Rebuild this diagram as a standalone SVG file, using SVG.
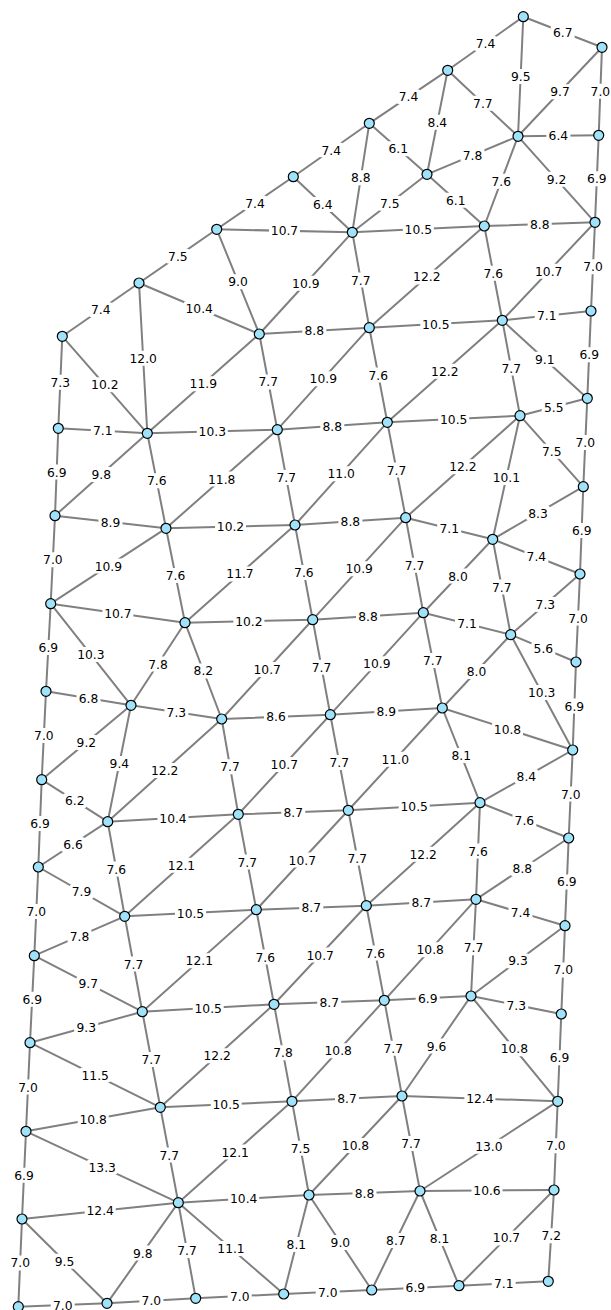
<svg xmlns="http://www.w3.org/2000/svg" xmlns:xlink="http://www.w3.org/1999/xlink" width="611" height="1310" viewBox="0 0 611 1310">
<style>
#connectors line{stroke:#808080;stroke-width:2;stroke-linecap:round}
.node circle{fill:#9fe2fa;stroke:#000;stroke-width:1.2}
.lb use{fill:#fff}
.lb text{font-family:"DejaVu Sans",sans-serif;font-size:12.3px;text-anchor:middle;fill:#000}
</style>
<defs>
<rect id="b3" x="-12" y="-7.5" width="24" height="15" rx="3"/>
<rect id="b4" x="-15.5" y="-7.5" width="31" height="15" rx="3"/>
</defs>
<rect width="611" height="1310" fill="#fff"/>
<g id="connectors">
<line x1="523.3" y1="16.7" x2="602" y2="47.3"/>
<line x1="523.3" y1="16.7" x2="447.7" y2="70.3"/>
<line x1="523.3" y1="16.7" x2="518" y2="136.3"/>
<line x1="602" y1="47.3" x2="518" y2="136.3"/>
<line x1="602" y1="47.3" x2="598.7" y2="135.3"/>
<line x1="447.7" y1="70.3" x2="369.3" y2="123.3"/>
<line x1="447.7" y1="70.3" x2="427" y2="174.3"/>
<line x1="447.7" y1="70.3" x2="518" y2="136.3"/>
<line x1="518" y1="136.3" x2="598.7" y2="135.3"/>
<line x1="518" y1="136.3" x2="427" y2="174.3"/>
<line x1="518" y1="136.3" x2="484.3" y2="226"/>
<line x1="518" y1="136.3" x2="595" y2="222.3"/>
<line x1="598.7" y1="135.3" x2="595" y2="222.3"/>
<line x1="369.3" y1="123.3" x2="293.3" y2="176.7"/>
<line x1="369.3" y1="123.3" x2="427" y2="174.3"/>
<line x1="369.3" y1="123.3" x2="352.3" y2="232.3"/>
<line x1="427" y1="174.3" x2="352.3" y2="232.3"/>
<line x1="427" y1="174.3" x2="484.3" y2="226"/>
<line x1="293.3" y1="176.7" x2="216.7" y2="229.3"/>
<line x1="293.3" y1="176.7" x2="352.3" y2="232.3"/>
<line x1="216.7" y1="229.3" x2="352.3" y2="232.3"/>
<line x1="352.3" y1="232.3" x2="484.3" y2="226"/>
<line x1="484.3" y1="226" x2="595" y2="222.3"/>
<line x1="216.7" y1="229.3" x2="139" y2="283"/>
<line x1="216.7" y1="229.3" x2="259.3" y2="334"/>
<line x1="352.3" y1="232.3" x2="259.3" y2="334"/>
<line x1="352.3" y1="232.3" x2="369.3" y2="327.7"/>
<line x1="484.3" y1="226" x2="369.3" y2="327.7"/>
<line x1="484.3" y1="226" x2="502.3" y2="320.3"/>
<line x1="595" y1="222.3" x2="502.3" y2="320.3"/>
<line x1="595" y1="222.3" x2="591" y2="311"/>
<line x1="139" y1="283" x2="62.3" y2="336.3"/>
<line x1="139" y1="283" x2="259.3" y2="334"/>
<line x1="139" y1="283" x2="147.3" y2="433.3"/>
<line x1="62.3" y1="336.3" x2="147.3" y2="433.3"/>
<line x1="62.3" y1="336.3" x2="58.3" y2="428.3"/>
<line x1="259.3" y1="334" x2="369.3" y2="327.7"/>
<line x1="259.3" y1="334" x2="147.3" y2="433.3"/>
<line x1="259.3" y1="334" x2="277.3" y2="429.7"/>
<line x1="369.3" y1="327.7" x2="502.3" y2="320.3"/>
<line x1="369.3" y1="327.7" x2="277.3" y2="429.7"/>
<line x1="369.3" y1="327.7" x2="387.3" y2="422.3"/>
<line x1="502.3" y1="320.3" x2="591" y2="311"/>
<line x1="502.3" y1="320.3" x2="387.3" y2="422.3"/>
<line x1="502.3" y1="320.3" x2="520" y2="415.7"/>
<line x1="502.3" y1="320.3" x2="587.3" y2="398.3"/>
<line x1="591" y1="311" x2="587.3" y2="398.3"/>
<line x1="58.3" y1="428.3" x2="147.3" y2="433.3"/>
<line x1="147.3" y1="433.3" x2="277.3" y2="429.7"/>
<line x1="277.3" y1="429.7" x2="387.3" y2="422.3"/>
<line x1="387.3" y1="422.3" x2="520" y2="415.7"/>
<line x1="520" y1="415.7" x2="587.3" y2="398.3"/>
<line x1="58.3" y1="428.3" x2="55" y2="515.7"/>
<line x1="147.3" y1="433.3" x2="55" y2="515.7"/>
<line x1="147.3" y1="433.3" x2="166" y2="528.3"/>
<line x1="277.3" y1="429.7" x2="166" y2="528.3"/>
<line x1="277.3" y1="429.7" x2="295" y2="525"/>
<line x1="387.3" y1="422.3" x2="295" y2="525"/>
<line x1="387.3" y1="422.3" x2="405.7" y2="517.7"/>
<line x1="520" y1="415.7" x2="405.7" y2="517.7"/>
<line x1="520" y1="415.7" x2="492.7" y2="539.3"/>
<line x1="520" y1="415.7" x2="583.3" y2="486.7"/>
<line x1="587.3" y1="398.3" x2="583.3" y2="486.7"/>
<line x1="55" y1="515.7" x2="166" y2="528.3"/>
<line x1="166" y1="528.3" x2="295" y2="525"/>
<line x1="295" y1="525" x2="405.7" y2="517.7"/>
<line x1="405.7" y1="517.7" x2="492.7" y2="539.3"/>
<line x1="492.7" y1="539.3" x2="583.3" y2="486.7"/>
<line x1="492.7" y1="539.3" x2="580" y2="574"/>
<line x1="583.3" y1="486.7" x2="580" y2="574"/>
<line x1="55" y1="515.7" x2="50.7" y2="603.7"/>
<line x1="166" y1="528.3" x2="50.7" y2="603.7"/>
<line x1="166" y1="528.3" x2="185" y2="622.7"/>
<line x1="295" y1="525" x2="185" y2="622.7"/>
<line x1="295" y1="525" x2="312.7" y2="619.7"/>
<line x1="405.7" y1="517.7" x2="312.7" y2="619.7"/>
<line x1="405.7" y1="517.7" x2="423.3" y2="612.7"/>
<line x1="492.7" y1="539.3" x2="423.3" y2="612.7"/>
<line x1="492.7" y1="539.3" x2="510.7" y2="634.7"/>
<line x1="580" y1="574" x2="510.7" y2="634.7"/>
<line x1="580" y1="574" x2="576" y2="662"/>
<line x1="50.7" y1="603.7" x2="185" y2="622.7"/>
<line x1="185" y1="622.7" x2="312.7" y2="619.7"/>
<line x1="312.7" y1="619.7" x2="423.3" y2="612.7"/>
<line x1="423.3" y1="612.7" x2="510.7" y2="634.7"/>
<line x1="510.7" y1="634.7" x2="576" y2="662"/>
<line x1="50.7" y1="603.7" x2="46" y2="691.3"/>
<line x1="50.7" y1="603.7" x2="131" y2="705.3"/>
<line x1="185" y1="622.7" x2="131" y2="705.3"/>
<line x1="185" y1="622.7" x2="221.7" y2="719"/>
<line x1="312.7" y1="619.7" x2="221.7" y2="719"/>
<line x1="312.7" y1="619.7" x2="330.3" y2="714.7"/>
<line x1="423.3" y1="612.7" x2="330.3" y2="714.7"/>
<line x1="423.3" y1="612.7" x2="442.3" y2="708"/>
<line x1="510.7" y1="634.7" x2="442.3" y2="708"/>
<line x1="510.7" y1="634.7" x2="572.7" y2="750"/>
<line x1="576" y1="662" x2="572.7" y2="750"/>
<line x1="46" y1="691.3" x2="131" y2="705.3"/>
<line x1="131" y1="705.3" x2="221.7" y2="719"/>
<line x1="221.7" y1="719" x2="330.3" y2="714.7"/>
<line x1="330.3" y1="714.7" x2="442.3" y2="708"/>
<line x1="442.3" y1="708" x2="572.7" y2="750"/>
<line x1="46" y1="691.3" x2="41.7" y2="779.7"/>
<line x1="131" y1="705.3" x2="41.7" y2="779.7"/>
<line x1="131" y1="705.3" x2="107.7" y2="821.7"/>
<line x1="221.7" y1="719" x2="107.7" y2="821.7"/>
<line x1="221.7" y1="719" x2="238.3" y2="814.3"/>
<line x1="330.3" y1="714.7" x2="238.3" y2="814.3"/>
<line x1="330.3" y1="714.7" x2="348.3" y2="810.3"/>
<line x1="442.3" y1="708" x2="348.3" y2="810.3"/>
<line x1="442.3" y1="708" x2="480" y2="802.7"/>
<line x1="572.7" y1="750" x2="480" y2="802.7"/>
<line x1="572.7" y1="750" x2="568.7" y2="838"/>
<line x1="41.7" y1="779.7" x2="107.7" y2="821.7"/>
<line x1="107.7" y1="821.7" x2="238.3" y2="814.3"/>
<line x1="238.3" y1="814.3" x2="348.3" y2="810.3"/>
<line x1="348.3" y1="810.3" x2="480" y2="802.7"/>
<line x1="480" y1="802.7" x2="568.7" y2="838"/>
<line x1="41.7" y1="779.7" x2="38.3" y2="867"/>
<line x1="107.7" y1="821.7" x2="38.3" y2="867"/>
<line x1="107.7" y1="821.7" x2="124.7" y2="916.3"/>
<line x1="238.3" y1="814.3" x2="124.7" y2="916.3"/>
<line x1="238.3" y1="814.3" x2="256.3" y2="909.7"/>
<line x1="348.3" y1="810.3" x2="256.3" y2="909.7"/>
<line x1="348.3" y1="810.3" x2="366.3" y2="905.7"/>
<line x1="480" y1="802.7" x2="366.3" y2="905.7"/>
<line x1="480" y1="802.7" x2="476" y2="899.3"/>
<line x1="568.7" y1="838" x2="476" y2="899.3"/>
<line x1="568.7" y1="838" x2="565" y2="925.7"/>
<line x1="38.3" y1="867" x2="124.7" y2="916.3"/>
<line x1="124.7" y1="916.3" x2="256.3" y2="909.7"/>
<line x1="256.3" y1="909.7" x2="366.3" y2="905.7"/>
<line x1="366.3" y1="905.7" x2="476" y2="899.3"/>
<line x1="476" y1="899.3" x2="565" y2="925.7"/>
<line x1="38.3" y1="867" x2="34.3" y2="955.7"/>
<line x1="124.7" y1="916.3" x2="34.3" y2="955.7"/>
<line x1="124.7" y1="916.3" x2="142.3" y2="1011.7"/>
<line x1="256.3" y1="909.7" x2="142.3" y2="1011.7"/>
<line x1="256.3" y1="909.7" x2="274" y2="1004.3"/>
<line x1="366.3" y1="905.7" x2="274" y2="1004.3"/>
<line x1="366.3" y1="905.7" x2="384.3" y2="1000.3"/>
<line x1="476" y1="899.3" x2="384.3" y2="1000.3"/>
<line x1="476" y1="899.3" x2="471" y2="996"/>
<line x1="565" y1="925.7" x2="471" y2="996"/>
<line x1="565" y1="925.7" x2="561.3" y2="1014"/>
<line x1="34.3" y1="955.7" x2="142.3" y2="1011.7"/>
<line x1="142.3" y1="1011.7" x2="274" y2="1004.3"/>
<line x1="274" y1="1004.3" x2="384.3" y2="1000.3"/>
<line x1="384.3" y1="1000.3" x2="471" y2="996"/>
<line x1="471" y1="996" x2="561.3" y2="1014"/>
<line x1="34.3" y1="955.7" x2="30" y2="1042.7"/>
<line x1="142.3" y1="1011.7" x2="30" y2="1042.7"/>
<line x1="142.3" y1="1011.7" x2="160.3" y2="1107.3"/>
<line x1="274" y1="1004.3" x2="160.3" y2="1107.3"/>
<line x1="274" y1="1004.3" x2="292" y2="1101.3"/>
<line x1="384.3" y1="1000.3" x2="292" y2="1101.3"/>
<line x1="384.3" y1="1000.3" x2="402" y2="1096"/>
<line x1="471" y1="996" x2="402" y2="1096"/>
<line x1="471" y1="996" x2="557.7" y2="1101.3"/>
<line x1="561.3" y1="1014" x2="557.7" y2="1101.3"/>
<line x1="30" y1="1042.7" x2="160.3" y2="1107.3"/>
<line x1="30" y1="1042.7" x2="26" y2="1131.3"/>
<line x1="160.3" y1="1107.3" x2="292" y2="1101.3"/>
<line x1="292" y1="1101.3" x2="402" y2="1096"/>
<line x1="402" y1="1096" x2="557.7" y2="1101.3"/>
<line x1="160.3" y1="1107.3" x2="26" y2="1131.3"/>
<line x1="160.3" y1="1107.3" x2="178.3" y2="1202.7"/>
<line x1="292" y1="1101.3" x2="178.3" y2="1202.7"/>
<line x1="292" y1="1101.3" x2="309" y2="1195"/>
<line x1="402" y1="1096" x2="309" y2="1195"/>
<line x1="402" y1="1096" x2="420" y2="1191"/>
<line x1="557.7" y1="1101.3" x2="420" y2="1191"/>
<line x1="557.7" y1="1101.3" x2="554" y2="1190"/>
<line x1="26" y1="1131.3" x2="178.3" y2="1202.7"/>
<line x1="26" y1="1131.3" x2="22" y2="1219"/>
<line x1="178.3" y1="1202.7" x2="309" y2="1195"/>
<line x1="309" y1="1195" x2="420" y2="1191"/>
<line x1="420" y1="1191" x2="554" y2="1190"/>
<line x1="178.3" y1="1202.7" x2="22" y2="1219"/>
<line x1="22" y1="1219" x2="18.3" y2="1306.7"/>
<line x1="22" y1="1219" x2="107" y2="1303.3"/>
<line x1="178.3" y1="1202.7" x2="107" y2="1303.3"/>
<line x1="178.3" y1="1202.7" x2="195.7" y2="1298.3"/>
<line x1="178.3" y1="1202.7" x2="283.7" y2="1294"/>
<line x1="309" y1="1195" x2="283.7" y2="1294"/>
<line x1="309" y1="1195" x2="371.7" y2="1290"/>
<line x1="420" y1="1191" x2="371.7" y2="1290"/>
<line x1="420" y1="1191" x2="459" y2="1285.7"/>
<line x1="554" y1="1190" x2="459" y2="1285.7"/>
<line x1="554" y1="1190" x2="548.3" y2="1281.3"/>
<line x1="18.3" y1="1306.7" x2="107" y2="1303.3"/>
<line x1="107" y1="1303.3" x2="195.7" y2="1298.3"/>
<line x1="195.7" y1="1298.3" x2="283.7" y2="1294"/>
<line x1="283.7" y1="1294" x2="371.7" y2="1290"/>
<line x1="371.7" y1="1290" x2="459" y2="1285.7"/>
<line x1="459" y1="1285.7" x2="548.3" y2="1281.3"/>
</g>
<g id="edge-labels" class="lb">
<g transform="translate(562.7,32)"><use href="#b3"/><text y="4.5">6.7</text></g>
<g transform="translate(485.5,43.5)"><use href="#b3"/><text y="4.5">7.4</text></g>
<g transform="translate(520.7,76.5)"><use href="#b3"/><text y="4.5">9.5</text></g>
<g transform="translate(560,91.8)"><use href="#b3"/><text y="4.5">9.7</text></g>
<g transform="translate(600.4,91.3)"><use href="#b3"/><text y="4.5">7.0</text></g>
<g transform="translate(408.5,96.8)"><use href="#b3"/><text y="4.5">7.4</text></g>
<g transform="translate(437.4,122.3)"><use href="#b3"/><text y="4.5">8.4</text></g>
<g transform="translate(482.9,103.3)"><use href="#b3"/><text y="4.5">7.7</text></g>
<g transform="translate(558.4,135.8)"><use href="#b3"/><text y="4.5">6.4</text></g>
<g transform="translate(472.5,155.3)"><use href="#b3"/><text y="4.5">7.8</text></g>
<g transform="translate(501.2,181.2)"><use href="#b3"/><text y="4.5">7.6</text></g>
<g transform="translate(556.5,179.3)"><use href="#b3"/><text y="4.5">9.2</text></g>
<g transform="translate(596.9,178.8)"><use href="#b3"/><text y="4.5">6.9</text></g>
<g transform="translate(331.3,150)"><use href="#b3"/><text y="4.5">7.4</text></g>
<g transform="translate(398.2,148.8)"><use href="#b3"/><text y="4.5">6.1</text></g>
<g transform="translate(360.8,177.8)"><use href="#b3"/><text y="4.5">8.8</text></g>
<g transform="translate(389.7,203.3)"><use href="#b3"/><text y="4.5">7.5</text></g>
<g transform="translate(455.7,200.2)"><use href="#b3"/><text y="4.5">6.1</text></g>
<g transform="translate(255,203)"><use href="#b3"/><text y="4.5">7.4</text></g>
<g transform="translate(322.8,204.5)"><use href="#b3"/><text y="4.5">6.4</text></g>
<g transform="translate(284.5,230.8)"><use href="#b4"/><text y="4.5">10.7</text></g>
<g transform="translate(418.3,229.2)"><use href="#b4"/><text y="4.5">10.5</text></g>
<g transform="translate(539.7,224.2)"><use href="#b3"/><text y="4.5">8.8</text></g>
<g transform="translate(177.9,256.2)"><use href="#b3"/><text y="4.5">7.5</text></g>
<g transform="translate(238,281.7)"><use href="#b3"/><text y="4.5">9.0</text></g>
<g transform="translate(305.8,283.2)"><use href="#b4"/><text y="4.5">10.9</text></g>
<g transform="translate(360.8,280)"><use href="#b3"/><text y="4.5">7.7</text></g>
<g transform="translate(426.8,276.9)"><use href="#b4"/><text y="4.5">12.2</text></g>
<g transform="translate(493.3,273.2)"><use href="#b3"/><text y="4.5">7.6</text></g>
<g transform="translate(548.7,271.3)"><use href="#b4"/><text y="4.5">10.7</text></g>
<g transform="translate(593,266.7)"><use href="#b3"/><text y="4.5">7.0</text></g>
<g transform="translate(100.7,309.7)"><use href="#b3"/><text y="4.5">7.4</text></g>
<g transform="translate(199.2,308.5)"><use href="#b4"/><text y="4.5">10.4</text></g>
<g transform="translate(143.2,358.2)"><use href="#b4"/><text y="4.5">12.0</text></g>
<g transform="translate(104.8,384.8)"><use href="#b4"/><text y="4.5">10.2</text></g>
<g transform="translate(60.3,382.3)"><use href="#b3"/><text y="4.5">7.3</text></g>
<g transform="translate(314.3,330.9)"><use href="#b3"/><text y="4.5">8.8</text></g>
<g transform="translate(203.3,383.7)"><use href="#b4"/><text y="4.5">11.9</text></g>
<g transform="translate(268.3,381.9)"><use href="#b3"/><text y="4.5">7.7</text></g>
<g transform="translate(435.8,324)"><use href="#b4"/><text y="4.5">10.5</text></g>
<g transform="translate(323.3,378.7)"><use href="#b4"/><text y="4.5">10.9</text></g>
<g transform="translate(378.3,375)"><use href="#b3"/><text y="4.5">7.6</text></g>
<g transform="translate(546.7,315.7)"><use href="#b3"/><text y="4.5">7.1</text></g>
<g transform="translate(444.8,371.3)"><use href="#b4"/><text y="4.5">12.2</text></g>
<g transform="translate(511.2,368)"><use href="#b3"/><text y="4.5">7.7</text></g>
<g transform="translate(544.8,359.3)"><use href="#b3"/><text y="4.5">9.1</text></g>
<g transform="translate(589.2,354.7)"><use href="#b3"/><text y="4.5">6.9</text></g>
<g transform="translate(102.8,430.8)"><use href="#b3"/><text y="4.5">7.1</text></g>
<g transform="translate(212.3,431.5)"><use href="#b4"/><text y="4.5">10.3</text></g>
<g transform="translate(332.3,426)"><use href="#b3"/><text y="4.5">8.8</text></g>
<g transform="translate(453.7,419)"><use href="#b4"/><text y="4.5">10.5</text></g>
<g transform="translate(553.7,407)"><use href="#b3"/><text y="4.5">5.5</text></g>
<g transform="translate(56.7,472)"><use href="#b3"/><text y="4.5">6.9</text></g>
<g transform="translate(101.2,474.5)"><use href="#b3"/><text y="4.5">9.8</text></g>
<g transform="translate(156.7,480.8)"><use href="#b3"/><text y="4.5">7.6</text></g>
<g transform="translate(221.7,479)"><use href="#b4"/><text y="4.5">11.8</text></g>
<g transform="translate(286.2,477.4)"><use href="#b3"/><text y="4.5">7.7</text></g>
<g transform="translate(341.2,473.7)"><use href="#b4"/><text y="4.5">11.0</text></g>
<g transform="translate(396.5,470)"><use href="#b3"/><text y="4.5">7.7</text></g>
<g transform="translate(462.9,466.7)"><use href="#b4"/><text y="4.5">12.2</text></g>
<g transform="translate(506.4,477.5)"><use href="#b4"/><text y="4.5">10.1</text></g>
<g transform="translate(551.7,451.2)"><use href="#b3"/><text y="4.5">7.5</text></g>
<g transform="translate(585.3,442.5)"><use href="#b3"/><text y="4.5">7.0</text></g>
<g transform="translate(110.5,522)"><use href="#b3"/><text y="4.5">8.9</text></g>
<g transform="translate(230.5,526.7)"><use href="#b4"/><text y="4.5">10.2</text></g>
<g transform="translate(350.4,521.4)"><use href="#b3"/><text y="4.5">8.8</text></g>
<g transform="translate(449.2,528.5)"><use href="#b3"/><text y="4.5">7.1</text></g>
<g transform="translate(538,513)"><use href="#b3"/><text y="4.5">8.3</text></g>
<g transform="translate(536.4,556.7)"><use href="#b3"/><text y="4.5">7.4</text></g>
<g transform="translate(581.7,530.4)"><use href="#b3"/><text y="4.5">6.9</text></g>
<g transform="translate(52.9,559.7)"><use href="#b3"/><text y="4.5">7.0</text></g>
<g transform="translate(108.4,566)"><use href="#b4"/><text y="4.5">10.9</text></g>
<g transform="translate(175.5,575.5)"><use href="#b3"/><text y="4.5">7.6</text></g>
<g transform="translate(240,573.9)"><use href="#b4"/><text y="4.5">11.7</text></g>
<g transform="translate(303.9,572.4)"><use href="#b3"/><text y="4.5">7.6</text></g>
<g transform="translate(359.2,568.7)"><use href="#b4"/><text y="4.5">10.9</text></g>
<g transform="translate(414.5,565.2)"><use href="#b3"/><text y="4.5">7.7</text></g>
<g transform="translate(458,576)"><use href="#b3"/><text y="4.5">8.0</text></g>
<g transform="translate(501.7,587)"><use href="#b3"/><text y="4.5">7.7</text></g>
<g transform="translate(545.4,604.4)"><use href="#b3"/><text y="4.5">7.3</text></g>
<g transform="translate(578,618)"><use href="#b3"/><text y="4.5">7.0</text></g>
<g transform="translate(117.9,613.2)"><use href="#b4"/><text y="4.5">10.7</text></g>
<g transform="translate(248.9,621.2)"><use href="#b4"/><text y="4.5">10.2</text></g>
<g transform="translate(368,616.2)"><use href="#b3"/><text y="4.5">8.8</text></g>
<g transform="translate(467,623.7)"><use href="#b3"/><text y="4.5">7.1</text></g>
<g transform="translate(543.4,648.4)"><use href="#b3"/><text y="4.5">5.6</text></g>
<g transform="translate(48.4,647.5)"><use href="#b3"/><text y="4.5">6.9</text></g>
<g transform="translate(90.9,654.5)"><use href="#b4"/><text y="4.5">10.3</text></g>
<g transform="translate(158,664)"><use href="#b3"/><text y="4.5">7.8</text></g>
<g transform="translate(203.4,670.9)"><use href="#b3"/><text y="4.5">8.2</text></g>
<g transform="translate(267.2,669.4)"><use href="#b4"/><text y="4.5">10.7</text></g>
<g transform="translate(321.5,667.2)"><use href="#b3"/><text y="4.5">7.7</text></g>
<g transform="translate(376.8,663.7)"><use href="#b4"/><text y="4.5">10.9</text></g>
<g transform="translate(432.8,660.4)"><use href="#b3"/><text y="4.5">7.7</text></g>
<g transform="translate(476.5,671.4)"><use href="#b3"/><text y="4.5">8.0</text></g>
<g transform="translate(541.7,692.4)"><use href="#b4"/><text y="4.5">10.3</text></g>
<g transform="translate(574.4,706)"><use href="#b3"/><text y="4.5">6.9</text></g>
<g transform="translate(88.5,698.3)"><use href="#b3"/><text y="4.5">6.8</text></g>
<g transform="translate(176.4,712.2)"><use href="#b3"/><text y="4.5">7.3</text></g>
<g transform="translate(276,716.9)"><use href="#b3"/><text y="4.5">8.6</text></g>
<g transform="translate(386.3,711.4)"><use href="#b3"/><text y="4.5">8.9</text></g>
<g transform="translate(507.5,729)"><use href="#b4"/><text y="4.5">10.8</text></g>
<g transform="translate(43.9,735.5)"><use href="#b3"/><text y="4.5">7.0</text></g>
<g transform="translate(86.4,742.5)"><use href="#b3"/><text y="4.5">9.2</text></g>
<g transform="translate(119.4,763.5)"><use href="#b3"/><text y="4.5">9.4</text></g>
<g transform="translate(164.7,770.4)"><use href="#b4"/><text y="4.5">12.2</text></g>
<g transform="translate(230,766.7)"><use href="#b3"/><text y="4.5">7.7</text></g>
<g transform="translate(284.3,764.5)"><use href="#b4"/><text y="4.5">10.7</text></g>
<g transform="translate(339.3,762.5)"><use href="#b3"/><text y="4.5">7.7</text></g>
<g transform="translate(395.3,759.2)"><use href="#b4"/><text y="4.5">11.0</text></g>
<g transform="translate(461.2,755.4)"><use href="#b3"/><text y="4.5">8.1</text></g>
<g transform="translate(526.4,776.4)"><use href="#b3"/><text y="4.5">8.4</text></g>
<g transform="translate(570.7,794)"><use href="#b3"/><text y="4.5">7.0</text></g>
<g transform="translate(74.7,800.7)"><use href="#b3"/><text y="4.5">6.2</text></g>
<g transform="translate(173,818)"><use href="#b4"/><text y="4.5">10.4</text></g>
<g transform="translate(293.3,812.3)"><use href="#b3"/><text y="4.5">8.7</text></g>
<g transform="translate(414.2,806.5)"><use href="#b4"/><text y="4.5">10.5</text></g>
<g transform="translate(524.4,820.4)"><use href="#b3"/><text y="4.5">7.6</text></g>
<g transform="translate(40,823.4)"><use href="#b3"/><text y="4.5">6.9</text></g>
<g transform="translate(73,844.4)"><use href="#b3"/><text y="4.5">6.6</text></g>
<g transform="translate(116.2,869)"><use href="#b3"/><text y="4.5">7.6</text></g>
<g transform="translate(181.5,865.3)"><use href="#b4"/><text y="4.5">12.1</text></g>
<g transform="translate(247.3,862)"><use href="#b3"/><text y="4.5">7.7</text></g>
<g transform="translate(302.3,860)"><use href="#b4"/><text y="4.5">10.7</text></g>
<g transform="translate(357.3,858)"><use href="#b3"/><text y="4.5">7.7</text></g>
<g transform="translate(423.2,854.2)"><use href="#b4"/><text y="4.5">12.2</text></g>
<g transform="translate(478,851)"><use href="#b3"/><text y="4.5">7.6</text></g>
<g transform="translate(522.4,868.7)"><use href="#b3"/><text y="4.5">8.8</text></g>
<g transform="translate(566.9,881.9)"><use href="#b3"/><text y="4.5">6.9</text></g>
<g transform="translate(81.5,891.7)"><use href="#b3"/><text y="4.5">7.9</text></g>
<g transform="translate(190.5,913)"><use href="#b4"/><text y="4.5">10.5</text></g>
<g transform="translate(311.3,907.7)"><use href="#b3"/><text y="4.5">8.7</text></g>
<g transform="translate(421.2,902.5)"><use href="#b3"/><text y="4.5">8.7</text></g>
<g transform="translate(520.5,912.5)"><use href="#b3"/><text y="4.5">7.4</text></g>
<g transform="translate(36.3,911.4)"><use href="#b3"/><text y="4.5">7.0</text></g>
<g transform="translate(79.5,936)"><use href="#b3"/><text y="4.5">7.8</text></g>
<g transform="translate(133.5,964)"><use href="#b3"/><text y="4.5">7.7</text></g>
<g transform="translate(199.3,960.7)"><use href="#b4"/><text y="4.5">12.1</text></g>
<g transform="translate(265.2,957)"><use href="#b3"/><text y="4.5">7.6</text></g>
<g transform="translate(320.2,955)"><use href="#b4"/><text y="4.5">10.7</text></g>
<g transform="translate(375.3,953)"><use href="#b3"/><text y="4.5">7.6</text></g>
<g transform="translate(430.2,949.8)"><use href="#b4"/><text y="4.5">10.8</text></g>
<g transform="translate(473.5,947.7)"><use href="#b3"/><text y="4.5">7.7</text></g>
<g transform="translate(518,960.9)"><use href="#b3"/><text y="4.5">9.3</text></g>
<g transform="translate(563.2,969.9)"><use href="#b3"/><text y="4.5">7.0</text></g>
<g transform="translate(88.3,983.7)"><use href="#b3"/><text y="4.5">9.7</text></g>
<g transform="translate(208.2,1008)"><use href="#b4"/><text y="4.5">10.5</text></g>
<g transform="translate(329.2,1002.3)"><use href="#b3"/><text y="4.5">8.7</text></g>
<g transform="translate(427.7,998.2)"><use href="#b3"/><text y="4.5">6.9</text></g>
<g transform="translate(516.2,1005)"><use href="#b3"/><text y="4.5">7.3</text></g>
<g transform="translate(32.2,999.2)"><use href="#b3"/><text y="4.5">6.9</text></g>
<g transform="translate(86.2,1027.2)"><use href="#b3"/><text y="4.5">9.3</text></g>
<g transform="translate(151.3,1059.5)"><use href="#b3"/><text y="4.5">7.7</text></g>
<g transform="translate(217.2,1055.8)"><use href="#b4"/><text y="4.5">12.2</text></g>
<g transform="translate(283,1052.8)"><use href="#b3"/><text y="4.5">7.8</text></g>
<g transform="translate(338.2,1050.8)"><use href="#b4"/><text y="4.5">10.8</text></g>
<g transform="translate(393.2,1048.2)"><use href="#b3"/><text y="4.5">7.7</text></g>
<g transform="translate(436.5,1046)"><use href="#b3"/><text y="4.5">9.6</text></g>
<g transform="translate(514.4,1048.7)"><use href="#b4"/><text y="4.5">10.8</text></g>
<g transform="translate(559.5,1057.7)"><use href="#b3"/><text y="4.5">6.9</text></g>
<g transform="translate(95.2,1075)"><use href="#b4"/><text y="4.5">11.5</text></g>
<g transform="translate(28,1087)"><use href="#b3"/><text y="4.5">7.0</text></g>
<g transform="translate(226.2,1104.3)"><use href="#b4"/><text y="4.5">10.5</text></g>
<g transform="translate(347,1098.7)"><use href="#b3"/><text y="4.5">8.7</text></g>
<g transform="translate(479.9,1098.7)"><use href="#b4"/><text y="4.5">12.4</text></g>
<g transform="translate(93.2,1119.3)"><use href="#b4"/><text y="4.5">10.8</text></g>
<g transform="translate(169.3,1155)"><use href="#b3"/><text y="4.5">7.7</text></g>
<g transform="translate(235.2,1152)"><use href="#b4"/><text y="4.5">12.1</text></g>
<g transform="translate(300.5,1148.2)"><use href="#b3"/><text y="4.5">7.5</text></g>
<g transform="translate(355.5,1145.5)"><use href="#b4"/><text y="4.5">10.8</text></g>
<g transform="translate(411,1143.5)"><use href="#b3"/><text y="4.5">7.7</text></g>
<g transform="translate(488.9,1146.2)"><use href="#b4"/><text y="4.5">13.0</text></g>
<g transform="translate(555.9,1145.7)"><use href="#b3"/><text y="4.5">7.0</text></g>
<g transform="translate(102.2,1167)"><use href="#b4"/><text y="4.5">13.3</text></g>
<g transform="translate(24,1175.2)"><use href="#b3"/><text y="4.5">6.9</text></g>
<g transform="translate(243.7,1198.9)"><use href="#b4"/><text y="4.5">10.4</text></g>
<g transform="translate(364.5,1193)"><use href="#b3"/><text y="4.5">8.8</text></g>
<g transform="translate(487,1190.5)"><use href="#b4"/><text y="4.5">10.6</text></g>
<g transform="translate(100.2,1210.9)"><use href="#b4"/><text y="4.5">12.4</text></g>
<g transform="translate(20.2,1262.9)"><use href="#b3"/><text y="4.5">7.0</text></g>
<g transform="translate(64.5,1261.2)"><use href="#b3"/><text y="4.5">9.5</text></g>
<g transform="translate(142.7,1253)"><use href="#b3"/><text y="4.5">9.8</text></g>
<g transform="translate(187,1250.5)"><use href="#b3"/><text y="4.5">7.7</text></g>
<g transform="translate(231,1248.4)"><use href="#b4"/><text y="4.5">11.1</text></g>
<g transform="translate(296.4,1244.5)"><use href="#b3"/><text y="4.5">8.1</text></g>
<g transform="translate(340.4,1242.5)"><use href="#b3"/><text y="4.5">9.0</text></g>
<g transform="translate(395.9,1240.5)"><use href="#b3"/><text y="4.5">8.7</text></g>
<g transform="translate(439.5,1238.4)"><use href="#b3"/><text y="4.5">8.1</text></g>
<g transform="translate(506.5,1237.9)"><use href="#b4"/><text y="4.5">10.7</text></g>
<g transform="translate(551.2,1235.7)"><use href="#b3"/><text y="4.5">7.2</text></g>
<g transform="translate(62.7,1305)"><use href="#b3"/><text y="4.5">7.0</text></g>
<g transform="translate(151.4,1300.8)"><use href="#b3"/><text y="4.5">7.0</text></g>
<g transform="translate(239.7,1296.2)"><use href="#b3"/><text y="4.5">7.0</text></g>
<g transform="translate(327.7,1292)"><use href="#b3"/><text y="4.5">7.0</text></g>
<g transform="translate(415.4,1287.9)"><use href="#b3"/><text y="4.5">6.9</text></g>
<g transform="translate(503.7,1283.5)"><use href="#b3"/><text y="4.5">7.1</text></g>
</g>
<g id="nodes">
<g id="n1" class="node"><circle cx="523.3" cy="16.7" r="5"/></g>
<g id="n2" class="node"><circle cx="602" cy="47.3" r="5"/></g>
<g id="n3" class="node"><circle cx="447.7" cy="70.3" r="5"/></g>
<g id="n4" class="node"><circle cx="369.3" cy="123.3" r="5"/></g>
<g id="n5" class="node"><circle cx="518" cy="136.3" r="5"/></g>
<g id="n6" class="node"><circle cx="598.7" cy="135.3" r="5"/></g>
<g id="n7" class="node"><circle cx="427" cy="174.3" r="5"/></g>
<g id="n8" class="node"><circle cx="293.3" cy="176.7" r="5"/></g>
<g id="n9" class="node"><circle cx="216.7" cy="229.3" r="5"/></g>
<g id="n10" class="node"><circle cx="352.3" cy="232.3" r="5"/></g>
<g id="n11" class="node"><circle cx="484.3" cy="226" r="5"/></g>
<g id="n12" class="node"><circle cx="595" cy="222.3" r="5"/></g>
<g id="n13" class="node"><circle cx="139" cy="283" r="5"/></g>
<g id="n14" class="node"><circle cx="62.3" cy="336.3" r="5"/></g>
<g id="n15" class="node"><circle cx="259.3" cy="334" r="5"/></g>
<g id="n16" class="node"><circle cx="369.3" cy="327.7" r="5"/></g>
<g id="n17" class="node"><circle cx="502.3" cy="320.3" r="5"/></g>
<g id="n18" class="node"><circle cx="591" cy="311" r="5"/></g>
<g id="n19" class="node"><circle cx="587.3" cy="398.3" r="5"/></g>
<g id="n20" class="node"><circle cx="58.3" cy="428.3" r="5"/></g>
<g id="n21" class="node"><circle cx="147.3" cy="433.3" r="5"/></g>
<g id="n22" class="node"><circle cx="277.3" cy="429.7" r="5"/></g>
<g id="n23" class="node"><circle cx="387.3" cy="422.3" r="5"/></g>
<g id="n24" class="node"><circle cx="520" cy="415.7" r="5"/></g>
<g id="n25" class="node"><circle cx="583.3" cy="486.7" r="5"/></g>
<g id="n26" class="node"><circle cx="55" cy="515.7" r="5"/></g>
<g id="n27" class="node"><circle cx="166" cy="528.3" r="5"/></g>
<g id="n28" class="node"><circle cx="295" cy="525" r="5"/></g>
<g id="n29" class="node"><circle cx="405.7" cy="517.7" r="5"/></g>
<g id="n30" class="node"><circle cx="492.7" cy="539.3" r="5"/></g>
<g id="n31" class="node"><circle cx="580" cy="574" r="5"/></g>
<g id="n32" class="node"><circle cx="50.7" cy="603.7" r="5"/></g>
<g id="n33" class="node"><circle cx="185" cy="622.7" r="5"/></g>
<g id="n34" class="node"><circle cx="312.7" cy="619.7" r="5"/></g>
<g id="n35" class="node"><circle cx="423.3" cy="612.7" r="5"/></g>
<g id="n36" class="node"><circle cx="510.7" cy="634.7" r="5"/></g>
<g id="n37" class="node"><circle cx="576" cy="662" r="5"/></g>
<g id="n38" class="node"><circle cx="46" cy="691.3" r="5"/></g>
<g id="n39" class="node"><circle cx="131" cy="705.3" r="5"/></g>
<g id="n40" class="node"><circle cx="221.7" cy="719" r="5"/></g>
<g id="n41" class="node"><circle cx="330.3" cy="714.7" r="5"/></g>
<g id="n42" class="node"><circle cx="442.3" cy="708" r="5"/></g>
<g id="n43" class="node"><circle cx="572.7" cy="750" r="5"/></g>
<g id="n44" class="node"><circle cx="41.7" cy="779.7" r="5"/></g>
<g id="n45" class="node"><circle cx="107.7" cy="821.7" r="5"/></g>
<g id="n46" class="node"><circle cx="238.3" cy="814.3" r="5"/></g>
<g id="n47" class="node"><circle cx="348.3" cy="810.3" r="5"/></g>
<g id="n48" class="node"><circle cx="480" cy="802.7" r="5"/></g>
<g id="n49" class="node"><circle cx="568.7" cy="838" r="5"/></g>
<g id="n50" class="node"><circle cx="38.3" cy="867" r="5"/></g>
<g id="n51" class="node"><circle cx="124.7" cy="916.3" r="5"/></g>
<g id="n52" class="node"><circle cx="256.3" cy="909.7" r="5"/></g>
<g id="n53" class="node"><circle cx="366.3" cy="905.7" r="5"/></g>
<g id="n54" class="node"><circle cx="476" cy="899.3" r="5"/></g>
<g id="n55" class="node"><circle cx="565" cy="925.7" r="5"/></g>
<g id="n56" class="node"><circle cx="34.3" cy="955.7" r="5"/></g>
<g id="n57" class="node"><circle cx="142.3" cy="1011.7" r="5"/></g>
<g id="n58" class="node"><circle cx="274" cy="1004.3" r="5"/></g>
<g id="n59" class="node"><circle cx="384.3" cy="1000.3" r="5"/></g>
<g id="n60" class="node"><circle cx="471" cy="996" r="5"/></g>
<g id="n61" class="node"><circle cx="561.3" cy="1014" r="5"/></g>
<g id="n62" class="node"><circle cx="30" cy="1042.7" r="5"/></g>
<g id="n63" class="node"><circle cx="160.3" cy="1107.3" r="5"/></g>
<g id="n64" class="node"><circle cx="292" cy="1101.3" r="5"/></g>
<g id="n65" class="node"><circle cx="402" cy="1096" r="5"/></g>
<g id="n66" class="node"><circle cx="557.7" cy="1101.3" r="5"/></g>
<g id="n67" class="node"><circle cx="26" cy="1131.3" r="5"/></g>
<g id="n68" class="node"><circle cx="178.3" cy="1202.7" r="5"/></g>
<g id="n69" class="node"><circle cx="309" cy="1195" r="5"/></g>
<g id="n70" class="node"><circle cx="420" cy="1191" r="5"/></g>
<g id="n71" class="node"><circle cx="554" cy="1190" r="5"/></g>
<g id="n72" class="node"><circle cx="22" cy="1219" r="5"/></g>
<g id="n73" class="node"><circle cx="18.3" cy="1306.7" r="5"/></g>
<g id="n74" class="node"><circle cx="107" cy="1303.3" r="5"/></g>
<g id="n75" class="node"><circle cx="195.7" cy="1298.3" r="5"/></g>
<g id="n76" class="node"><circle cx="283.7" cy="1294" r="5"/></g>
<g id="n77" class="node"><circle cx="371.7" cy="1290" r="5"/></g>
<g id="n78" class="node"><circle cx="459" cy="1285.7" r="5"/></g>
<g id="n79" class="node"><circle cx="548.3" cy="1281.3" r="5"/></g>
</g>
</svg>
